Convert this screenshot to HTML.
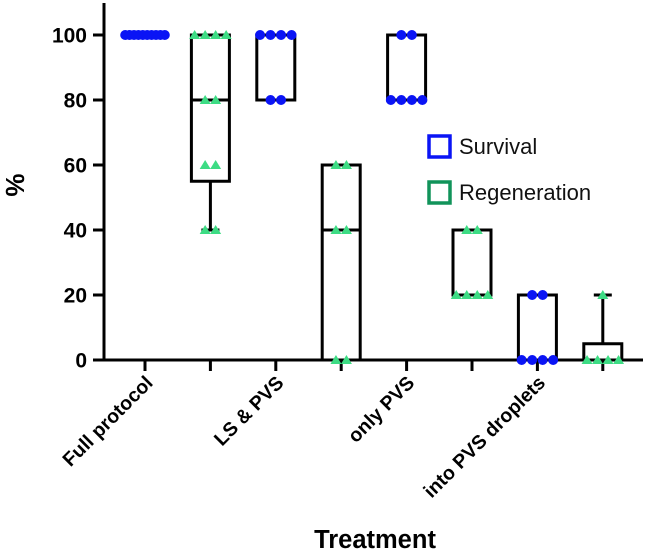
<!DOCTYPE html>
<html><head><meta charset="utf-8"><style>
html,body{margin:0;padding:0;background:#fff;}
svg{display:block;font-family:"Liberation Sans",Arial,sans-serif;}
</style></head><body>
<svg id="chart" width="646" height="552" xmlns="http://www.w3.org/2000/svg"></svg>
<script>
const groupNames = ["Full protocol","","LS & PVS","","only PVS","","into PVS droplets",""];
const groupSeries = ["s","r","s","r","s","r","s","r"];
const boxQ1 = [100,55,80,0,80,20,0,0];
const boxMed = [100,80,100,40,80,20,0,0];
const boxQ3 = [100,100,100,60,100,40,20,5];
const boxMin = [100,40,80,0,80,20,0,0];
const boxMax = [100,100,100,60,100,40,20,20];
const points = [
 [100,100,100,100,100,100,100,100,100,100],
 [100,100,100,100,80,80,60,60,40,40],
 [100,100,100,100,80,80],
 [60,60,40,40,0,0],
 [100,100,80,80,80,80],
 [40,40,20,20,20,20],
 [20,20,0,0,0,0],
 [20,0,0,0,0]
];
const yTicks = [0,20,40,60,80,100];

const svg = document.getElementById('chart');
const NS = "http://www.w3.org/2000/svg";
const x0 = 145, dx = 65.4;
const xs = i => x0 + i*dx;
const ys = v => 360 - v*3.25;
function mk(tag, attrs, parent){const e=document.createElementNS(NS,tag);for(const k in attrs)e.setAttribute(k,attrs[k]);(parent||svg).appendChild(e);return e;}

const ax = mk('g',{});


mk('line',{x1:104,y1:3,x2:104,y2:361.5,stroke:'#000','stroke-width':3},ax);
mk('line',{x1:102.5,y1:360,x2:643,y2:360,stroke:'#000','stroke-width':3},ax);
yTicks.forEach(v=>{
  mk('line',{x1:93,y1:ys(v),x2:104,y2:ys(v),stroke:'#000','stroke-width':3},ax);
  const t=mk('text',{x:87,y:ys(v)+7.5,'text-anchor':'end','font-size':21,'font-weight':'bold'},ax);
  t.textContent=v;
  
  
});
groupNames.forEach((n,i)=>{
  mk('line',{x1:xs(i),y1:360,x2:xs(i),y2:371,stroke:'#000','stroke-width':3},ax);
  if(n){
    const t=mk('text',{x:0,y:0,'text-anchor':'end','font-size':19.5,'font-weight':'bold',transform:`translate(${xs(i)+9},${384}) rotate(-45)`},ax);
    t.textContent=n;
    
    
  }
});
const yl=mk('text',{x:0,y:0,'text-anchor':'middle','font-size':26,'font-weight':'bold',transform:'translate(24,185) rotate(-90)'});
yl.textContent='%';


const xl=mk('text',{x:375,y:548,'text-anchor':'middle','font-size':25.5,'font-weight':'bold'});
xl.textContent='Treatment';



groupNames.forEach((n,i)=>{
  const g=mk('g',{});
  
  
  const c=xs(i), hw=19;
  if(boxQ3[i]!==boxQ1[i]){
    mk('rect',{x:c-hw,y:ys(boxQ3[i]),width:2*hw,height:ys(boxQ1[i])-ys(boxQ3[i]),fill:'none',stroke:'#000','stroke-width':3},g);
    mk('line',{x1:c-hw,x2:c+hw,y1:ys(boxMed[i]),y2:ys(boxMed[i]),stroke:'#000','stroke-width':3},g);
    if(boxMax[i]>boxQ3[i]){mk('line',{x1:c,x2:c,y1:ys(boxQ3[i]),y2:ys(boxMax[i]),stroke:'#000','stroke-width':3},g);mk('line',{x1:c-9,x2:c+9,y1:ys(boxMax[i]),y2:ys(boxMax[i]),stroke:'#000','stroke-width':3},g);}
    if(boxMin[i]<boxQ1[i]){mk('line',{x1:c,x2:c,y1:ys(boxQ1[i]),y2:ys(boxMin[i]),stroke:'#000','stroke-width':3},g);mk('line',{x1:c-9,x2:c+9,y1:ys(boxMin[i]),y2:ys(boxMin[i]),stroke:'#000','stroke-width':3},g);}
  }
  const counts={};
  points[i].forEach(v=>counts[v]=(counts[v]||0)+1);
  Object.keys(counts).forEach(k=>{
    const v=+k, n=counts[k];
    const sp = groupSeries[i]==='s' ? (n>6?4.4:10.5) : 10.5;
    for(let j=0;j<n;j++){
      const px=c+(j-(n-1)/2)*sp, py=ys(v);
      let m;
      if(groupSeries[i]==='s') m=mk('circle',{cx:px,cy:py,r:5,fill:'#0a14f5'},g);
      else m=mk('polygon',{points:`${px},${py-5} ${px-5.5},${py+4} ${px+5.5},${py+4}`,fill:'#3ddc84'},g);
      
      
    }
  });
});

const lg=mk('g',{});


[['Survival','#0a14f5',146],['Regeneration','#11935a',192]].forEach(([t,col,y])=>{
  const e=mk('g',{},lg);
  
  
  mk('rect',{x:429,y:y-10,width:21,height:21,fill:'none',stroke:col,'stroke-width':3.5},e);
  const tx=mk('text',{x:459,y:y+8,'font-size':22,fill:'#111'},e);
  tx.textContent=t;
});
</script>
</body></html>
